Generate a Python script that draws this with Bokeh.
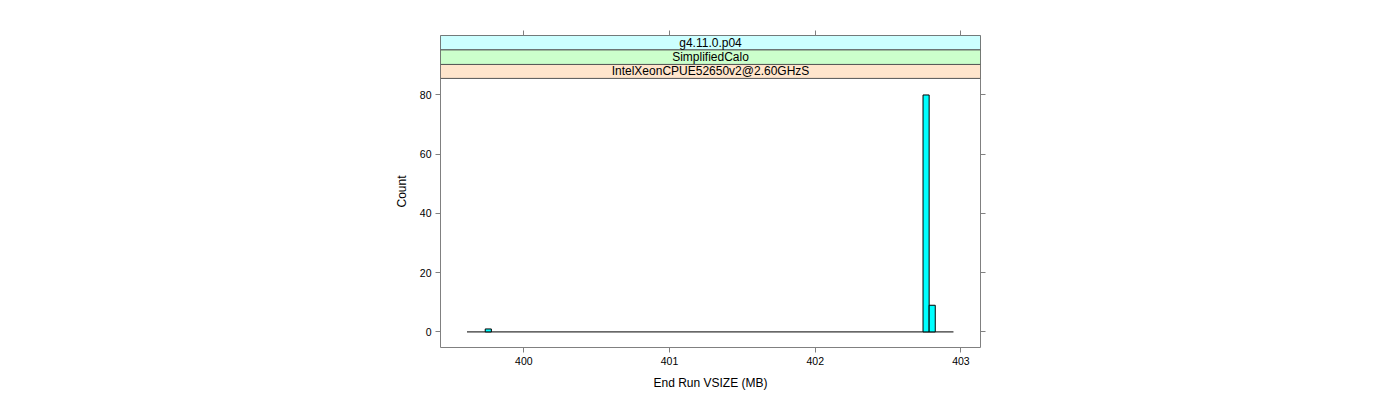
from bokeh.plotting import figure
from bokeh.models import Range1d, LinearAxis, FixedTicker, ColumnDataSource
from bokeh.core.properties import value
from bokeh.embed import file_html
from bokeh.resources import INLINE

# ---- data ----
bar_left = [399.735, 402.740, 402.782]
bar_right = [399.777, 402.782, 402.824]
counts = [1, 80, 9]
hist_start = 399.610   # first bin edge (empty bins drawn as zero-height bars)
hist_end = 402.949     # last bin edge

strip_labels = ["IntelXeonCPUE52650v2@2.60GHzS", "SimplifiedCalo", "g4.11.0.p04"]
strip_colors = ["#FFE5CC", "#CCFFCC", "#CCFFFF"]

x_ticks = [400, 401, 402, 403]
y_ticks = [0, 20, 40, 60, 80]

FONT = "Liberation Sans"
AX = "#808080"

# ---- layout ----
x0, x1 = 399.428, 403.1345
y0, y1 = -5.26, 100.08
strip_edges = [85.59, 90.31, 95.27, y1]

p = figure(width=1400, height=400, output_backend="svg", toolbar_location=None,
           x_range=Range1d(x0, x1), y_range=Range1d(y0, y1),
           min_border_left=440, min_border_right=420, min_border_top=35, min_border_bottom=53,
           frame_width=540, frame_height=312,
           x_axis_label="End Run VSIZE (MB)", y_axis_label="Count")
p.grid.visible = False
p.outline_line_color = AX
p.outline_line_width = 1
p.background_fill_color = "white"
p.border_fill_color = "white"

def style_axis(ax, labels=True):
    ax.axis_line_color = None
    ax.major_tick_line_color = AX
    ax.major_tick_out = 5
    ax.major_tick_in = 0
    ax.minor_tick_line_color = None
    ax.major_label_text_font = FONT
    ax.major_label_text_font_size = "10.5px"
    ax.major_label_text_color = "black"
    ax.axis_label_text_font = FONT
    ax.axis_label_text_font_size = "12px"
    ax.axis_label_text_font_style = "normal"
    ax.axis_label_text_color = "black"
    ax.major_label_standoff = 4
    ax.axis_label_standoff = 8
    if not labels:
        ax.major_label_text_font_size = "0px"
        ax.major_label_text_color = None

p.xaxis.ticker = FixedTicker(ticks=x_ticks)
p.yaxis.ticker = FixedTicker(ticks=y_ticks)
style_axis(p.xaxis[0])
style_axis(p.yaxis[0])
p.yaxis.major_label_orientation = "horizontal"

top = LinearAxis(ticker=FixedTicker(ticks=x_ticks))
style_axis(top, labels=False)
p.add_layout(top, "above")
right = LinearAxis(ticker=FixedTicker(ticks=y_ticks))
style_axis(right, labels=False)
p.add_layout(right, "right")

# baseline (empty bins)
p.segment(x0=[hist_start], y0=[0], x1=[hist_end], y1=[0], line_color="black", line_width=1)

# bars
src = ColumnDataSource(dict(left=bar_left, right=bar_right, top=counts, bottom=[0] * len(counts)))
p.quad(left="left", right="right", top="top", bottom="bottom", source=src,
       fill_color="#00FFFF", line_color="black", line_width=1)

# strips
for i, (lab, col) in enumerate(zip(strip_labels, strip_colors)):
    p.quad(left=[x0], right=[x1], bottom=[strip_edges[i]], top=[strip_edges[i + 1]],
           fill_color=col, line_color="#555555", line_width=1)
    p.text(x=[(x0 + x1) / 2], y=[(strip_edges[i] + strip_edges[i + 1]) / 2], text=[lab],
           text_font=value(FONT), text_font_size="12px", text_align="center",
           text_baseline="middle", text_color="black")

open("out.html", "w").write(file_html(p, INLINE))
